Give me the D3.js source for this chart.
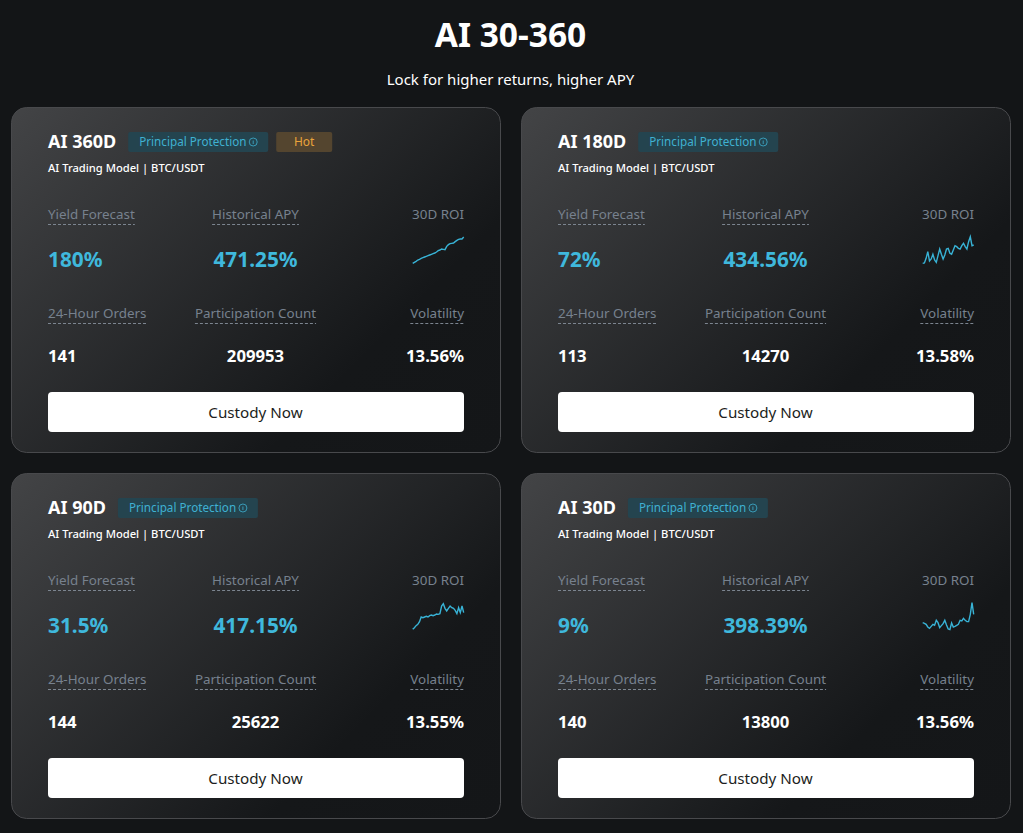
<!DOCTYPE html>
<html>
<head>
<meta charset="utf-8">
<script src="https://cdn.jsdelivr.net/npm/d3@7"></script>
<style>
html, body { margin: 0; padding: 0; background: #131517; }
svg { display: block; }
text { font-family: "Noto Sans", Roboto, sans-serif; }
</style>
</head>
<body>
<div id="chart"></div>
<script>
var pageTitle = "AI 30-360";
var pageSub = "Lock for higher returns, higher APY";

var products = ["AI 360D", "AI 180D", "AI 90D", "AI 30D"];
var hotTags = ["Hot", null, null, null];
var yieldForecast = ["180%", "72%", "31.5%", "9%"];
var historicalApy = ["471.25%", "434.56%", "417.15%", "398.39%"];
var orders24h = [141, 113, 144, 140];
var participation = [209953, 14270, 25622, 13800];
var volatility = ["13.56%", "13.58%", "13.55%", "13.56%"];

// 30D ROI (relative units)
var roi360 = [35,38,41,45,47,50,52,54,56,58,60,62,64,66,69,73,75,78,77,76,86,91,94,95,96,100,104,107,108,108,114];
var roi180 = [35,36,50,70,42,48,62,45,38,58,78,62,48,60,78,80,65,62,75,88,85,80,78,88,95,85,78,100,115,88,90];
var roi90 = [35,40,46,50,58,72,70,72,74,72,76,78,76,78,81,80,82,105,112,98,90,98,105,100,98,92,82,100,85,105,85];
var roi30 = [55,53,50,42,38,44,50,47,62,55,40,46,52,62,48,36,34,54,42,44,47,50,62,60,68,62,58,58,80,115,80];
var roiSeries = [roi360, roi180, roi90, roi30];

var W = 1023, H = 833;
var cardW = 489, cardH = 345;
var cardXs = [12, 522], cardYs = [108, 474];

var svg = d3.select("#chart").append("svg").attr("width", W).attr("height", H);
svg.append("rect").attr("width", W).attr("height", H).attr("fill", "#131517");

// 45 degree gradient, same as css linear-gradient(135deg, ...)
var grad = svg.append("defs").append("linearGradient")
    .attr("id", "cardBg")
    .attr("gradientUnits", "userSpaceOnUse")
    .attr("x1", 0).attr("y1", 0)
    .attr("x2", (cardW + cardH) / 2).attr("y2", (cardW + cardH) / 2);
grad.append("stop").attr("offset", "0%").attr("stop-color", "#434446");
grad.append("stop").attr("offset", "72%").attr("stop-color", "#151719");
grad.append("stop").attr("offset", "100%").attr("stop-color", "#141618");

svg.append("text").attr("x", 510.5).attr("y", 47)
    .attr("text-anchor", "middle").attr("fill", "#fff")
    .attr("font-size", 33.5).attr("font-weight", 700).text(pageTitle);
svg.append("text").attr("x", 510.5).attr("y", 85)
    .attr("text-anchor", "middle").attr("fill", "#fff")
    .attr("font-size", 15).text(pageSub);

var xScale = d3.scaleLinear().domain([0, 30]).range([0, 51]);
var yScale = d3.scaleLinear().domain([0, 150]).range([50, 0]);
var roiLine = d3.line().x((d, i) => xScale(i)).y(d => yScale(d));

function label(g, x, y, anchor, txt) {
    var t = g.append("text").attr("x", x).attr("y", y)
        .attr("text-anchor", anchor).attr("fill", "#77818e")
        .attr("font-size", 13.4).text(txt);
    var w = t.node().getComputedTextLength();
    var x0 = anchor == "start" ? x : anchor == "end" ? x - w : x - w / 2;
    g.append("line").attr("x1", x0).attr("x2", x0 + w)
        .attr("y1", y + 5.5).attr("y2", y + 5.5)
        .attr("stroke", "#7c8590").attr("stroke-width", 1)
        .attr("stroke-dasharray", "3 2");
}

function value(g, x, y, anchor, txt, size, color) {
    g.append("text").attr("x", x).attr("y", y)
        .attr("text-anchor", anchor).attr("fill", color)
        .attr("font-size", size).attr("font-weight", 700).text(txt);
}

function drawCard(i) {
    var g = svg.append("g")
        .attr("transform", `translate(${cardXs[i % 2]},${cardYs[Math.floor(i / 2)]})`);

    g.append("rect").attr("x", -0.5).attr("y", -0.5)
        .attr("width", cardW).attr("height", cardH).attr("rx", 15)
        .attr("fill", "url(#cardBg)").attr("stroke", "#48494c");

    var name = g.append("text").attr("x", 36).attr("y", 40)
        .attr("fill", "#fff").attr("font-size", 18).attr("font-weight", 700)
        .text(products[i]);
    var bx = 36 + name.node().getComputedTextLength() + 12;

    // badges
    g.append("rect").attr("x", bx).attr("y", 24).attr("width", 140).attr("height", 20)
        .attr("rx", 2).attr("fill", "#24444f");
    g.append("text").attr("x", bx + 11).attr("y", 38)
        .attr("fill", "#3fb1d2").attr("font-size", 11.7).text("Principal Protection");
    g.append("circle").attr("cx", bx + 125).attr("cy", 34).attr("r", 4)
        .attr("fill", "none").attr("stroke", "#3fb1d2").attr("stroke-width", 0.8);
    g.append("line").attr("x1", bx + 125).attr("x2", bx + 125).attr("y1", 32.5).attr("y2", 36)
        .attr("stroke", "#3fb1d2").attr("stroke-width", 0.8);
    if (hotTags[i]) {
        g.append("rect").attr("x", bx + 148).attr("y", 24).attr("width", 56).attr("height", 20)
            .attr("rx", 2).attr("fill", "#54452f");
        g.append("text").attr("x", bx + 176).attr("y", 38).attr("text-anchor", "middle")
            .attr("fill", "#eaa33b").attr("font-size", 12).text(hotTags[i]);
    }

    g.append("text").attr("x", 36).attr("y", 64)
        .attr("fill", "#fff").attr("font-size", 11.2).attr("font-weight", 500)
        .text("AI Trading Model | BTC/USDT");

    label(g, 36, 111, "start", "Yield Forecast");
    label(g, 243.5, 111, "middle", "Historical APY");
    g.append("text").attr("x", 452).attr("y", 111).attr("text-anchor", "end")
        .attr("fill", "#77818e").attr("font-size", 13.4).text("30D ROI");
    value(g, 36, 159, "start", yieldForecast[i], 20.8, "#3fb8dc");
    value(g, 243.5, 159, "middle", historicalApy[i], 20.8, "#3fb8dc");

    g.append("g").attr("transform", "translate(400.7,117)")
        .append("path").datum(roiSeries[i])
        .attr("d", roiLine).attr("fill", "none")
        .attr("stroke", "#38b3d6").attr("stroke-width", 1.4);

    label(g, 36, 210, "start", "24-Hour Orders");
    label(g, 243.5, 210, "middle", "Participation Count");
    label(g, 452, 210, "end", "Volatility");
    value(g, 36, 254, "start", orders24h[i], 16.7, "#fff");
    value(g, 243.5, 254, "middle", participation[i], 16.7, "#fff");
    value(g, 452, 254, "end", volatility[i], 16.7, "#fff");

    g.append("rect").attr("x", 36).attr("y", 284).attr("width", 416).attr("height", 40)
        .attr("rx", 4).attr("fill", "#fff");
    g.append("text").attr("x", 243.5).attr("y", 309.5).attr("text-anchor", "middle")
        .attr("fill", "#1c1e21").attr("font-size", 15.2).text("Custody Now");
}

products.forEach((d, i) => drawCard(i));
</script>
</body>
</html>
